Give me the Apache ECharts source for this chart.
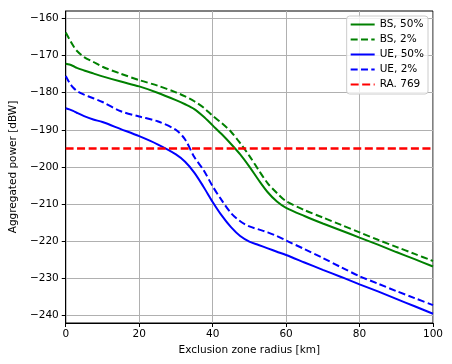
<!DOCTYPE html>
<html>
<head>
<meta charset="utf-8">
<script src="https://cdn.jsdelivr.net/npm/echarts@6/dist/echarts.min.js"></script>
<style>
  html, body { margin: 0; padding: 0; background: #fff; }
  #chart { width: 452px; height: 364px; }
</style>
</head>
<body>
<div id="chart"></div>
<script>
// exclusion zone radius [km]
var radius = [0, 1, 2, 3, 5, 7.5, 10, 15, 20, 25, 30, 32.5, 35, 37.5, 40, 42.5, 45, 47.5,
  50, 52.5, 55, 57.5, 60, 65, 70, 75, 80, 85, 90, 95, 100];

var bs50 = [-172.2, -172.4, -172.8, -173.3, -174.0, -174.8, -175.6, -177.0, -178.3, -180.0,
  -182.0, -183.1, -184.4, -186.4, -188.8, -191.2, -193.8, -196.6, -199.9, -203.5, -206.8,
  -209.3, -211.0, -213.2, -215.2, -217.1, -219.0, -220.9, -222.9, -224.8, -226.8];
var bs2 = [-163.8, -165.6, -167.3, -168.7, -170.4, -171.7, -173.0, -174.9, -176.6, -178.1,
  -179.9, -181.0, -182.3, -184.0, -186.2, -188.2, -190.5, -193.6, -197.0, -200.8, -204.4,
  -207.0, -209.2, -211.6, -213.6, -215.6, -217.6, -219.6, -221.5, -223.4, -225.3];
var ue50 = [-184.2, -184.5, -184.9, -185.4, -186.3, -187.2, -187.9, -189.8, -191.7, -193.9,
  -196.6, -198.6, -201.5, -205.3, -209.4, -213.1, -216.2, -218.6, -220.1, -221.0, -221.9,
  -222.8, -223.7, -225.7, -227.7, -229.6, -231.6, -233.5, -235.5, -237.5, -239.5];
var ue2 = [-175.5, -177.3, -178.6, -179.5, -180.5, -181.5, -182.5, -185.0, -186.4, -187.7,
  -190.0, -192.6, -197.3, -200.8, -205.2, -209.0, -212.4, -214.6, -216.0, -216.8, -217.6,
  -218.6, -219.8, -222.1, -224.5, -227.0, -229.4, -231.4, -233.4, -235.3, -237.2];

// RA.769 threshold
var raX = [0, 100];
var raY = [-195, -195];

var yTicks = [-240, -230, -220, -210, -200, -190, -180, -170, -160];

function pairs(xs, ys) {
  return xs.map(function (x, i) { return [x, ys[i]]; });
}

var font = "DejaVu Sans";
var myChart = echarts.init(document.getElementById("chart"));

function lineSeries(name, xs, ys, color, dashed, width) {
  return {
    name: name,
    type: "line",
    data: pairs(xs, ys),
    symbol: "none",
    smooth: 0.3,
    animation: false,
    lineStyle: {
      color: color,
      width: width || 2,
      type: dashed ? dashed : "solid",
    },
    itemStyle: { color: color },
  };
}

var option = {
  animation: false,
  grid: {
    left: 60,
    right: 19,
    top: 11,
    bottom: 41,
    show: true,
    borderColor: "#000",
    borderWidth: 1,
  },
  legend: {
    orient: "vertical",
    right: 24,
    top: 16,
    itemWidth: 24,
    itemHeight: 12,
    itemGap: 4,
    itemTextGap: 8,
    padding: [3, 4, 4, 3],
    backgroundColor: "rgba(255,255,255,0.8)",
    borderColor: "#cccccc",
    borderWidth: 1,
    borderRadius: 3,
    itemStyle: { opacity: 0 }, // only the line in the key, no marker
    textStyle: { fontFamily: font, fontSize: 10.5, color: "#000" },
    data: ["BS, 50%", "BS, 2%", "UE, 50%", "UE, 2%", "RA. 769"],
  },
  xAxis: {
    type: "value",
    min: 0,
    max: 100,
    interval: 20,
    name: "Exclusion zone radius [km]",
    nameLocation: "middle",
    nameGap: 22,
    nameTextStyle: { fontFamily: font, fontSize: 10.5, color: "#000" },
    axisLine: { lineStyle: { color: "#000", width: 1 } },
    axisTick: { show: true, length: 4, lineStyle: { color: "#000" } },
    axisLabel: { fontFamily: font, fontSize: 10.5, color: "#000", margin: 6 },
    splitLine: { show: true, lineStyle: { color: "#b0b0b0", width: 1 } },
  },
  yAxis: {
    type: "value",
    min: -242,
    max: -158,
    name: "Aggregated power [dBW]",
    nameLocation: "middle",
    nameGap: 40,
    nameTextStyle: { fontFamily: font, fontSize: 10.5, color: "#000" },
    axisLine: { show: true, lineStyle: { color: "#000", width: 1 } },
    axisTick: { show: true, length: 4, customValues: yTicks, lineStyle: { color: "#000" } },
    axisLabel: {
      fontFamily: font,
      fontSize: 10.5,
      color: "#000",
      margin: 7,
      customValues: yTicks,
      formatter: function (v) { return String(v).replace("-", "\u2212"); },
    },
    splitLine: { show: true, lineStyle: { color: "#b0b0b0", width: 1 } },
  },
  series: [
    lineSeries("BS, 50%", radius, bs50, "#008000", null),
    lineSeries("BS, 2%", radius, bs2, "#008000", [7, 3.3]),
    lineSeries("UE, 50%", radius, ue50, "#0000ff", null),
    lineSeries("UE, 2%", radius, ue2, "#0000ff", [7, 3.3]),
    lineSeries("RA. 769", raX, raY, "#ff0000", [8, 3.5], 2.6),
  ],
};
myChart.setOption(option, true);
</script>
</body>
</html>
